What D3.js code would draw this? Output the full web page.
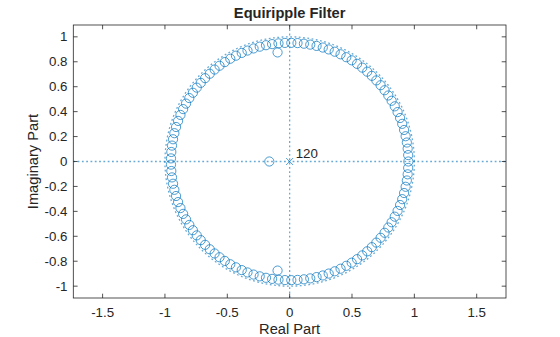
<!DOCTYPE html>
<html><head><meta charset="utf-8">
<script src="https://cdn.jsdelivr.net/npm/d3@7"></script>
<style>
html,body{margin:0;padding:0;background:#fff;}
svg{display:block;}
text{font-family:"Liberation Sans",Arial,Helvetica,sans-serif;fill:#262626;}
</style></head>
<body>
<svg id="c" width="560" height="337"></svg>
<script>
// ---- data ----
const chartTitle = "Equiripple Filter";
const xLabel = "Real Part";
const yLabel = "Imaginary Part";
const xTicks = [-1.5, -1, -0.5, 0, 0.5, 1, 1.5];
const yTicks = [-1, -0.8, -0.6, -0.4, -0.2, 0, 0.2, 0.4, 0.6, 0.8, 1];
const xDomain = [-1.735, 1.735];
const yDomain = [-1.095, 1.095];
// zeros near the unit circle (upper half angles in degrees; conjugates mirrored)
const ringRadius = 0.952;
const ringAnglesDeg = [3.1, 6.2, 9.2, 12.3, 15.4, 18.5, 21.5, 24.6, 27.7, 30.8,
  33.8, 36.9, 40.0, 43.1, 46.2, 49.2, 52.3, 55.4, 58.5, 61.5,
  64.6, 67.7, 70.8, 73.8, 76.9, 80.0, 83.1, 86.2, 89.2, 92.3,
  95.4, 98.5, 101.5, 104.6, 107.7, 110.8, 113.8, 116.9, 120.0, 123.1,
  126.2, 129.2, 132.3, 135.4, 138.5, 141.5, 144.6, 147.7, 150.8, 153.8,
  156.9, 160.0, 163.1, 166.2, 169.2, 172.3, 175.4, 178.5];
const realZeros = [-0.163, 0.952];
const complexZerosRe = [-0.097];
const complexZerosIm = [0.875];
const poleRe = [0];
const poleIm = [0];
const poleOrder = ["120"];

// ---- build zero list ----
const zeros = [];
ringAnglesDeg.forEach(a => {
  const t = a * Math.PI / 180;
  zeros.push([ringRadius * Math.cos(t), ringRadius * Math.sin(t)]);
  zeros.push([ringRadius * Math.cos(t), -ringRadius * Math.sin(t)]);
});
realZeros.forEach(r => zeros.push([r, 0]));
complexZerosRe.forEach((re, i) => {
  zeros.push([re, complexZerosIm[i]]);
  zeros.push([re, -complexZerosIm[i]]);
});

// ---- layout ----
const L = 73.3, R = 506, T = 25, B = 298;
const blue = "#0072BD";
const svg = d3.select("#c");
const x = d3.scaleLinear().domain(xDomain).range([L, R]);
const y = d3.scaleLinear().domain(yDomain).range([B, T]);

const clipId = "pc";
svg.append("defs").append("clipPath").attr("id", clipId)
  .append("rect").attr("x", L).attr("y", T).attr("width", R - L).attr("height", B - T);

const plot = svg.append("g").attr("clip-path", `url(#${clipId})`);

const dotStyle = s => s.attr("fill", "none").attr("stroke", blue)
  .attr("stroke-width", 1.3).attr("stroke-opacity", 0.6).attr("stroke-dasharray", "1.8,2.5");

// axes through origin
plot.append("line").attr("x1", L).attr("x2", R).attr("y1", y(0)).attr("y2", y(0)).call(dotStyle);
plot.append("line").attr("x1", x(0)).attr("x2", x(0)).attr("y1", T).attr("y2", B).call(dotStyle);

// unit circle
const circ = d3.range(0, 361, 1).map(d => [Math.cos(d * Math.PI / 180), Math.sin(d * Math.PI / 180)]);
plot.append("path").attr("d", d3.line().x(d => x(d[0])).y(d => y(d[1]))(circ)).call(dotStyle);

// zeros
plot.append("g").selectAll("circle").data(zeros).join("circle")
  .attr("cx", d => x(d[0])).attr("cy", d => y(d[1])).attr("r", 4.6)
  .attr("fill", "none").attr("stroke", blue).attr("stroke-width", 0.7);

// poles
const pg = plot.append("g");
poleRe.forEach((re, i) => {
  const cx = x(re), cy = y(poleIm[i]), s = 3.5;
  pg.append("path").attr("d", `M${cx - s},${cy - s}L${cx + s},${cy + s}M${cx - s},${cy + s}L${cx + s},${cy - s}`)
    .attr("stroke", blue).attr("stroke-width", 0.7).attr("fill", "none");
  svg.append("text").attr("x", cx + 6).attr("y", cy - 3.5).attr("font-size", "13.3px").text(poleOrder[i]);
});

// axes box and ticks
const tl = 4.3;
const ax = svg.append("g").attr("fill", "none").attr("stroke", "#262626").attr("stroke-width", 0.8);
ax.append("rect").attr("x", L).attr("y", T).attr("width", R - L).attr("height", B - T);
xTicks.forEach(v => {
  ax.append("line").attr("x1", x(v)).attr("x2", x(v)).attr("y1", B).attr("y2", B - tl);
  ax.append("line").attr("x1", x(v)).attr("x2", x(v)).attr("y1", T).attr("y2", T + tl);
});
yTicks.forEach(v => {
  ax.append("line").attr("x1", L).attr("x2", L + tl).attr("y1", y(v)).attr("y2", y(v));
  ax.append("line").attr("x1", R).attr("x2", R - tl).attr("y1", y(v)).attr("y2", y(v));
});

// tick labels
svg.append("g").selectAll("text").data(xTicks).join("text")
  .attr("x", d => x(d)).attr("y", 316.5).attr("text-anchor", "middle")
  .attr("font-size", "13.3px").text(d => String(d));
svg.append("g").selectAll("text").data(yTicks).join("text")
  .attr("x", 67.5).attr("y", d => y(d) + 4.6).attr("text-anchor", "end")
  .attr("font-size", "13.3px").text(d => String(d));

// labels
svg.append("text").attr("x", (L + R) / 2).attr("y", 334).attr("text-anchor", "middle")
  .attr("font-size", "14.67px").text(xLabel);
svg.append("text").attr("transform", `translate(38,${(T + B) / 2}) rotate(-90)`)
  .attr("text-anchor", "middle").attr("font-size", "14.67px").text(yLabel);
svg.append("text").attr("x", (L + R) / 2).attr("y", 18).attr("text-anchor", "middle")
  .attr("font-size", "14.67px").attr("font-weight", "bold").text(chartTitle);
</script>
</body></html>
